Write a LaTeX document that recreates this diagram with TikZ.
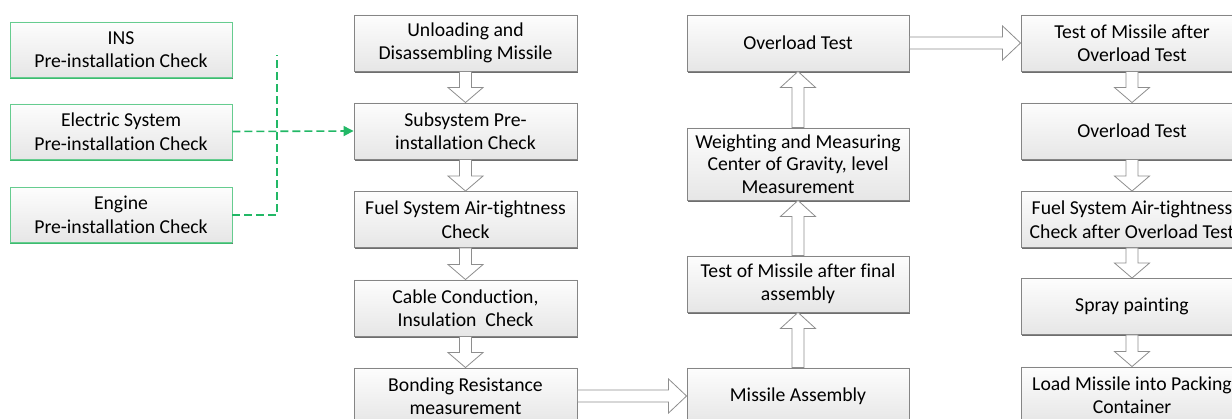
\documentclass[tikz,border=0pt]{standalone}
\usepackage{fontspec}
\setmainfont{Carlito}[Ligatures=NoCommon]
\usetikzlibrary{calc,arrows.meta,shadows}

\definecolor{boxline}{HTML}{858585}
\definecolor{boxshade}{HTML}{6E6E6E}
\definecolor{boxtop}{HTML}{FDFDFD}
\definecolor{boxbottom}{HTML}{E6E6E6}
\definecolor{greenline}{HTML}{66CC8F}
\definecolor{greenshade}{HTML}{3DBB6F}
\definecolor{flowgreen}{HTML}{22B866}
\definecolor{arrowline}{HTML}{8E8E8E}

\tikzset{
  stepbox/.style={draw=boxline, line width=0.9pt, top color=boxtop, bottom color=boxbottom,
    align=center, inner sep=0pt, minimum width=223pt, minimum height=56pt,
    font=\fontsize{19.7}{23.5}\selectfont,
    drop shadow={shadow xshift=0.8pt, shadow yshift=-1.8pt, fill=boxshade, opacity=1}},
  checkbox/.style={stepbox, draw=greenline, minimum width=222pt, minimum height=55pt,
    drop shadow={shadow xshift=0.4pt, shadow yshift=-1.6pt, fill=greenshade, opacity=1}},
  blockarrow/.style={draw=arrowline, line width=0.8pt, fill=white, line join=miter},
  greendash/.style={draw=flowgreen, line width=1.6pt, dash pattern=on 8pt off 4pt}
}

% hollow block arrows joining two named boxes
\newcommand\barrowdown[2]{%
  \draw[blockarrow] ($(#1.south)+(-6,0)$) -- ($(#2.north)+(-6,-15)$)
    -- ($(#2.north)+(-17.5,-15)$) -- (#2.north) -- ($(#2.north)+(17.5,-15)$)
    -- ($(#2.north)+(6,-15)$) -- ($(#1.south)+(6,0)$) -- cycle;}
\newcommand\barrowup[2]{%
  \draw[blockarrow] ($(#1.north)+(-6,0)$) -- ($(#2.south)+(-6,16)$)
    -- ($(#2.south)+(-17.5,16)$) -- (#2.south) -- ($(#2.south)+(17.5,16)$)
    -- ($(#2.south)+(6,16)$) -- ($(#1.north)+(6,0)$) -- cycle;}
\newcommand\barrowright[2]{%
  \draw[blockarrow] ($(#1.east)+(0,-6)$) -- ($(#2.west)+(-18,-6)$)
    -- ($(#2.west)+(-18,-17)$) -- (#2.west) -- ($(#2.west)+(-18,17)$)
    -- ($(#2.west)+(-18,6)$) -- ($(#1.east)+(0,6)$) -- cycle;}

\begin{document}
\begin{tikzpicture}[x=1pt, y=-1pt]
\useasboundingbox (0,0) rectangle (1232,419);
\clip (0,0) rectangle (1232,419);
\fill[white] (0,0) rectangle (1232,419);

% subsystem pre-installation checks
\node[checkbox] (ins)  at (121,49.5)  {INS\\Pre-installation Check};
\node[checkbox] (elec) at (121,131.5) {Electric System\\Pre-installation Check};
\node[checkbox] (eng)  at (121,215)   {Engine\\Pre-installation Check};

% first column
\node[stepbox] (unload) at (465.5,43)    {Unloading and\\Disassembling Missile};
\node[stepbox] (subsys) at (465.5,131)   {Subsystem Pre-\\installation Check};
\node[stepbox] (fuel)   at (465.5,219.5) {Fuel System Air-tightness\\Check};
\node[stepbox] (cable)  at (465.5,308)   {Cable Conduction,\\Insulation~ Check};
\node[stepbox] (bond)   at (465.5,396)   {Bonding Resistance\\measurement};

% second column
\node[stepbox, minimum width=222pt] (ovl)    at (798,43)  {Overload Test};
\node[stepbox, minimum width=222pt, minimum height=72pt, font=\fontsize{19.7}{22.5}\selectfont]
  (weigh) at (798,164) {Weighting and Measuring\\Center of Gravity, level\\Measurement};
\node[stepbox, minimum width=222pt] (tfinal) at (798,284) {Test of Missile after final\\assembly};
\node[stepbox, minimum width=222pt] (assy)   at (798,396) {Missile Assembly};

% third column
\node[stepbox, minimum width=222pt] (tafter) at (1132,43)    {Test of Missile after\\Overload Test};
\node[stepbox, minimum width=222pt] (ovl2)   at (1132,131)   {Overload Test};
\node[stepbox, minimum width=222pt] (fuel2)  at (1132,219.5) {Fuel System Air-tightness\\Check after Overload Test};
\node[stepbox, minimum width=222pt] (spray)  at (1132,306.5) {Spray painting};
\node[stepbox, minimum width=222pt] (load)   at (1132,395)   {Load Missile into Packing\\Container};

% dashed feed lines into the subsystem check
\coordinate (bustop) at (277,55);
\draw[greendash] (eng.east) -| (bustop);
\draw[greendash, -{Triangle[length=10pt,width=10pt]}] (elec.east) -- (subsys.west);

% process flow
\barrowdown{unload}{subsys}
\barrowdown{subsys}{fuel}
\barrowdown{fuel}{cable}
\barrowdown{cable}{bond}
\barrowright{bond}{assy}
\barrowup{assy}{tfinal}
\barrowup{tfinal}{weigh}
\barrowup{weigh}{ovl}
\barrowright{ovl}{tafter}
\barrowdown{tafter}{ovl2}
\barrowdown{ovl2}{fuel2}
\barrowdown{fuel2}{spray}
\barrowdown{spray}{load}
\end{tikzpicture}
\end{document}
